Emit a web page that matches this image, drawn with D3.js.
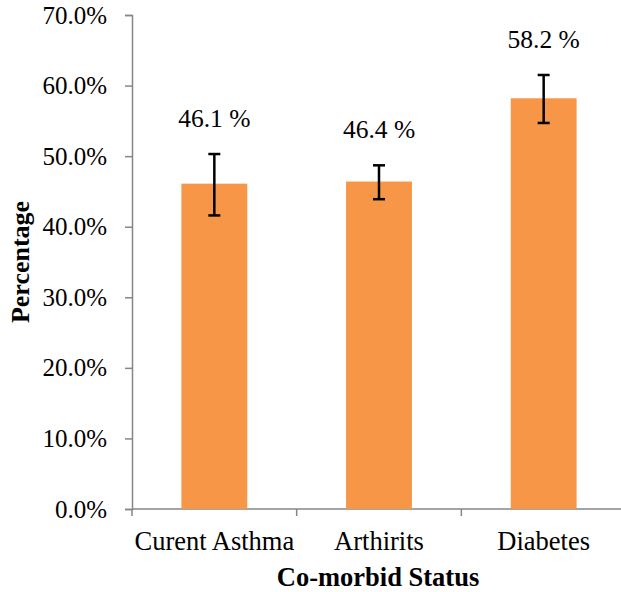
<!DOCTYPE html>
<html>
<head>
<meta charset="utf-8">
<script src="https://cdnjs.cloudflare.com/ajax/libs/d3/7.8.5/d3.min.js"></script>
<style>
body { margin: 0; background: #fff; }
</style>
</head>
<body>
<svg id="chart"></svg>
<script>
// data
const categories = ["Curent Asthma", "Arthirits", "Diabetes"];
const values = [46.1, 46.4, 58.2];
const errLow = [41.6, 43.9, 54.7];
const errHigh = [50.3, 48.7, 61.5];
const yTicks = [0, 10, 20, 30, 40, 50, 60, 70];

const width = 621, height = 592;
const margin = {top: 15, right: -5, bottom: 83, left: 132};
const serif = "'Liberation Serif', 'Times New Roman', serif";

const svg = d3.select("#chart")
  .attr("width", width)
  .attr("height", height);

let x = d3.scaleBand()
  .domain(categories)
  .range([margin.left, width - margin.right])
  .paddingInner(0.6)
  .paddingOuter(0.3);

let y = d3.scaleLinear()
  .domain([0, 70])
  .range([height - margin.bottom, margin.top]);

// y axis
let yAxis = d3.axisLeft(y)
  .tickValues(yTicks)
  .tickSize(7)
  .tickPadding(18)
  .tickFormat(d => d3.format(".1f")(d) + "%");

let gy = svg.append("g")
  .attr("transform", `translate(${margin.left},0)`)
  .call(yAxis);
gy.select(".domain").attr("stroke", "#868686").attr("stroke-width", 1.5);
gy.selectAll(".tick line").attr("stroke", "#868686").attr("stroke-width", 1.5);
gy.selectAll(".tick text")
  .style("font-family", serif)
  .style("font-size", "25px")
  .style("fill", "#000");

// x axis line and category ticks
let xBase = y(0);
svg.append("line")
  .attr("x1", margin.left).attr("x2", width - margin.right)
  .attr("y1", xBase).attr("y2", xBase)
  .attr("stroke", "#868686").attr("stroke-width", 1.5);

let step = (width - margin.right - margin.left) / categories.length;
svg.selectAll("line.xtick")
  .data(d3.range(categories.length + 1))
  .enter()
  .append("line")
  .attr("class", "xtick")
  .attr("x1", i => margin.left + i * step)
  .attr("x2", i => margin.left + i * step)
  .attr("y1", xBase).attr("y2", xBase + 7)
  .attr("stroke", "#868686").attr("stroke-width", 1.5);

svg.selectAll("text.cat")
  .data(categories)
  .enter()
  .append("text")
  .attr("class", "cat")
  .attr("x", d => x(d) + x.bandwidth() / 2)
  .attr("y", xBase + 41)
  .style("text-anchor", "middle")
  .style("font-family", serif)
  .style("font-size", "26.5px")
  .text(d => d);

// bars
svg.selectAll("rect.bar")
  .data(categories)
  .enter()
  .append("rect")
  .attr("class", "bar")
  .attr("x", d => x(d))
  .attr("width", x.bandwidth())
  .attr("y", (d, i) => y(values[i]))
  .attr("height", (d, i) => y(0) - y(values[i]))
  .style("fill", "#F79646");

// error bars
let cap = 6;
let err = svg.selectAll("g.err")
  .data(categories)
  .enter()
  .append("g")
  .attr("class", "err")
  .attr("stroke", "#000")
  .attr("stroke-width", 2.5);

err.append("line")
  .attr("x1", d => x(d) + x.bandwidth() / 2)
  .attr("x2", d => x(d) + x.bandwidth() / 2)
  .attr("y1", (d, i) => y(errLow[i]))
  .attr("y2", (d, i) => y(errHigh[i]));
err.append("line")
  .attr("x1", d => x(d) + x.bandwidth() / 2 - cap)
  .attr("x2", d => x(d) + x.bandwidth() / 2 + cap)
  .attr("y1", (d, i) => y(errLow[i]))
  .attr("y2", (d, i) => y(errLow[i]));
err.append("line")
  .attr("x1", d => x(d) + x.bandwidth() / 2 - cap)
  .attr("x2", d => x(d) + x.bandwidth() / 2 + cap)
  .attr("y1", (d, i) => y(errHigh[i]))
  .attr("y2", (d, i) => y(errHigh[i]));

// value labels
svg.selectAll("text.valueLabel")
  .data(categories)
  .enter()
  .append("text")
  .attr("class", "valueLabel")
  .attr("x", d => x(d) + x.bandwidth() / 2)
  .attr("y", (d, i) => y(errHigh[i]) - 27)
  .style("text-anchor", "middle")
  .style("font-family", serif)
  .style("font-size", "25.5px")
  .text((d, i) => values[i].toFixed(1) + " %");

// axis titles
svg.append("text")
  .attr("x", (margin.left + width - margin.right) / 2 - 1)
  .attr("y", 586)
  .style("text-anchor", "middle")
  .style("font-family", serif)
  .style("font-size", "26.5px")
  .style("font-weight", "bold")
  .text("Co-morbid Status");

svg.append("text")
  .attr("transform", `translate(29, ${y(35)}) rotate(-90)`)
  .style("text-anchor", "middle")
  .style("font-family", serif)
  .style("font-size", "26px")
  .style("font-weight", "bold")
  .text("Percentage");
</script>
</body>
</html>
